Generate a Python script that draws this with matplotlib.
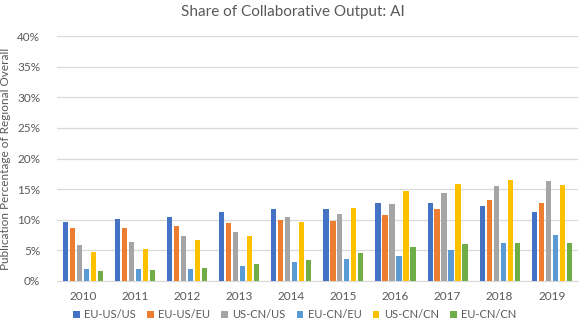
import numpy as np
import matplotlib
matplotlib.use("Agg")
import matplotlib.pyplot as plt
from matplotlib.ticker import PercentFormatter

plt.rcParams['font.family'] = ['Lato', 'DejaVu Sans']

years = ["2010", "2011", "2012", "2013", "2014", "2015", "2016", "2017", "2018", "2019"]
series_names = ["EU-US/US", "EU-US/EU", "US-CN/US", "EU-CN/EU", "US-CN/CN", "EU-CN/CN"]
eu_us_us = [9.6, 10.1, 10.5, 11.2, 11.8, 11.8, 12.7, 12.7, 12.2, 11.2]
eu_us_eu = [8.7, 8.7, 9.0, 9.4, 9.9, 9.8, 10.8, 11.8, 13.2, 12.7]
us_cn_us = [5.9, 6.4, 7.4, 8.0, 10.4, 11.0, 12.5, 14.4, 15.5, 16.3]
eu_cn_eu = [1.9, 1.9, 2.0, 2.5, 3.1, 3.6, 4.1, 5.1, 6.2, 7.5]
us_cn_cn = [4.7, 5.3, 6.7, 7.4, 9.7, 11.9, 14.7, 15.9, 16.5, 15.7]
eu_cn_cn = [1.7, 1.8, 2.2, 2.7, 3.5, 4.6, 5.6, 6.1, 6.2, 6.2]
colors = ["#4472C4", "#ED7D31", "#A5A5A5", "#5B9BD5", "#FFC000", "#70AD47"]

all_series = [eu_us_us, eu_us_eu, us_cn_us, eu_cn_eu, us_cn_cn, eu_cn_cn]

fig = plt.figure(figsize=(5.86, 3.30), dpi=100)
ax = fig.add_axes([0.097, 0.1485, 0.889, 0.742])

x = np.arange(len(years))
slot = 0.134
for i, (vals, name, c) in enumerate(zip(all_series, series_names, colors)):
    ax.bar(x + (i - 2.5) * slot, vals, width=0.10, color=c, label=name, zorder=3)

ax.set_xlim(-0.5, len(years) - 0.5)
ax.set_ylim(0, 40)
ax.set_yticks(np.arange(0, 41, 5))
ax.yaxis.set_major_formatter(PercentFormatter(decimals=0))
ax.set_xticks(x)
ax.set_xticklabels(years)
ax.grid(axis="y", color="#D9D9D9", linewidth=0.9, zorder=0)
for s in ["top", "right", "left"]:
    ax.spines[s].set_visible(False)
ax.spines["bottom"].set_color("#D9D9D9")
ax.tick_params(axis="both", length=0, colors="#595959", labelsize=8.5)
ax.tick_params(axis="x", pad=7)
ax.tick_params(axis="y", pad=12)

ax.set_ylabel("Publication Percentage of Regional Overall", color="#595959", fontsize=8.5, labelpad=4)
fig.suptitle("Share of Collaborative Output: AI", color="#595959", fontsize=11, y=0.985)

fig.legend(loc="lower center", bbox_to_anchor=(0.503, 0.0), ncol=6, frameon=False,
           fontsize=8, labelcolor="#595959", handlelength=0.6, handleheight=0.6,
           handletextpad=0.4, columnspacing=1.0)

fig.savefig("out.png", dpi=100)
